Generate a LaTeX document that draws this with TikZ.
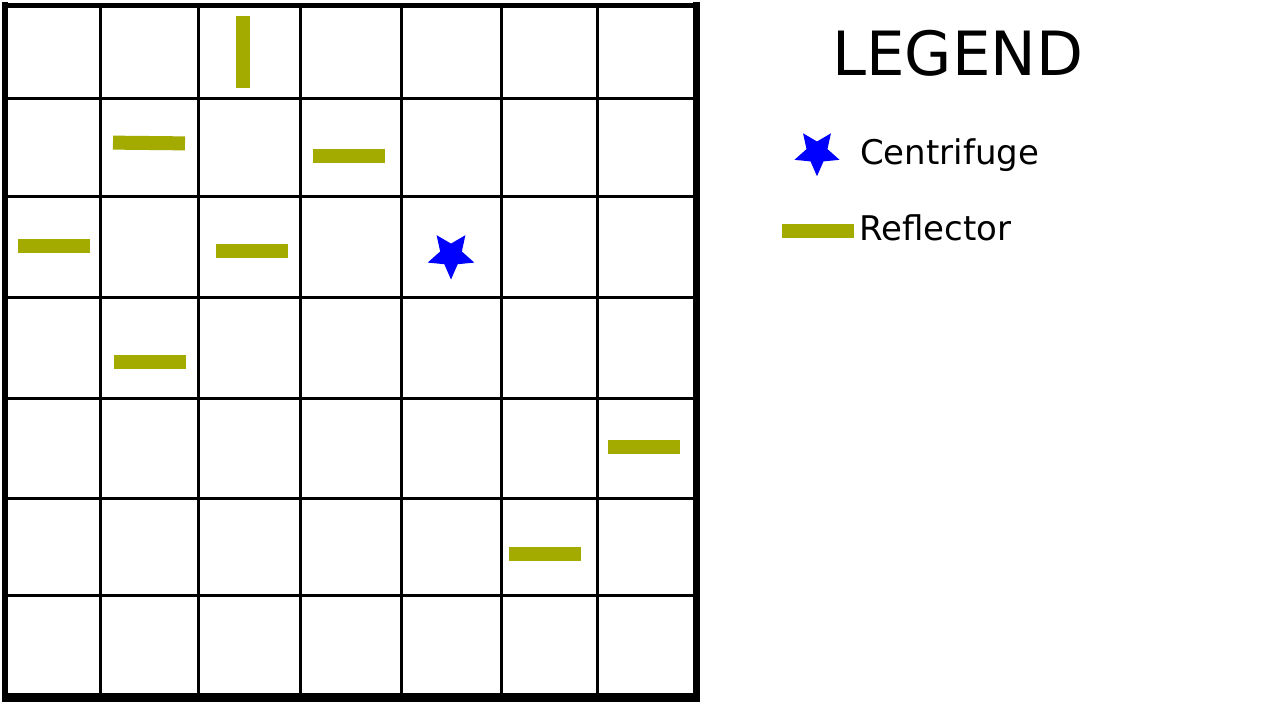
\documentclass[tikz,border=0pt]{standalone}
\usepackage{fontspec}
\setmainfont{DejaVu Sans}
\definecolor{olive}{RGB}{163,170,0}
\definecolor{starblue}{RGB}{0,0,255}
\begin{document}
\begin{tikzpicture}[x=1pt,y=-1pt,
  refl/.style={rectangle,fill=olive,draw=none,inner sep=0pt,minimum width=72pt,minimum height=14pt},
  reflv/.style={refl,minimum width=14pt,minimum height=72pt},
  gridline/.style={line width=3pt,black},
  lbl/.style={inner sep=0pt,anchor=base west,font=\fontsize{34}{40}\selectfont}
]
\newcommand{\centristar}[3]{% center x, center y, outer radius
  \fill[starblue,shift={(#1,#2)}] (90:#3)
    \foreach \k in {1,...,9} {
      -- ({90+36*\k}:{ifthenelse(isodd(\k),#3/2.15,#3)})
    } -- cycle;
}
\useasboundingbox (0,0) rectangle (1280,720);
\fill[white] (0,0) rectangle (1280,720);
% inner grid
\foreach \x in {100,198,300,401,501,597} \draw[gridline] (\x,5) -- (\x,697);
\foreach \y in {98,196,297,398,498,595} \draw[gridline] (5,\y) -- (697,\y);
% outer frame
\draw[line width=6pt] (5,2) -- (5,701);
\draw[line width=5pt] (2,5.5) -- (699.5,5.5);
\draw[line width=6.5pt] (696.5,2) -- (696.5,701);
\draw[line width=9pt] (2,697) -- (699.5,697);
% reflectors
\node[reflv] (r1) at (243,52) {};
\node[refl,rotate=-0.6] (r2) at (149,143) {};
\node[refl] (r3) at (349,156) {};
\node[refl] (r4) at (54,246) {};
\node[refl] (r5) at (252,251) {};
\node[refl] (r6) at (150,362) {};
\node[refl] (r7) at (644,447) {};
\node[refl] (r8) at (545,554) {};
% centrifuge
\coordinate (c1) at (451,255);
\centristar{451}{255}{24.5}
% legend
\node[inner sep=0pt,anchor=base west,font=\fontsize{61}{72}\selectfont] (title) at (832,75) {LEGEND};
\coordinate (lstar) at (817,152.5);
\centristar{817}{152.5}{23.7}
\node[lbl] (lcent) at (860,164.5) {Centrifuge};
\node[refl,minimum width=72pt] (lrefl) at (818,231) {};
\node[lbl] (lref) at (859,240) {Reflector};
\end{tikzpicture}
\end{document}
